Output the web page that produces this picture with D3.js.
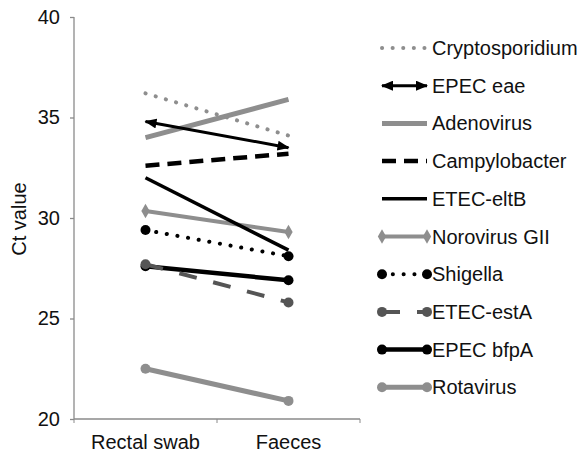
<!DOCTYPE html>
<html>
<head>
<meta charset="utf-8">
<script src="https://cdn.jsdelivr.net/npm/d3@7"></script>
<style>
  body { margin: 0; background: #fff; }
  text { font-family: "Liberation Sans", Arial, sans-serif; fill: #111; }
</style>
</head>
<body>
<svg width="580" height="454"></svg>
<script>
// sample types on the x axis
const samples = ["Rectal swab", "Faeces"]
const yTicks = [20, 25, 30, 35, 40]

// one pair of Ct values per pathogen: [rectal swab, faeces]
const pathogens = ["Cryptosporidium", "EPEC eae", "Adenovirus", "Campylobacter", "ETEC-eltB",
  "Norovirus GII", "Shigella", "ETEC-estA", "EPEC bfpA", "Rotavirus"]
const cryptosporidium = [36.2, 34.1]
const epecEae = [34.8, 33.5]
const adenovirus = [34.0, 35.9]
const campylobacter = [32.6, 33.2]
const etecEltB = [32.0, 28.4]
const norovirus = [30.35, 29.3]
const shigella = [29.4, 28.1]
const etecEstA = [27.7, 25.8]
const epecBfpA = [27.6, 26.9]
const rotavirus = [22.5, 20.9]

const values = [cryptosporidium, epecEae, adenovirus, campylobacter, etecEltB,
  norovirus, shigella, etecEstA, epecBfpA, rotavirus]

const grey = "#8e8e8e", dark = "#555555", black = "#000000"

// look of each series (same order as pathogens)
const styles = [
  {color: grey,  width: 4,   dash: "0.1 10.5", cap: "round"},
  {color: black, width: 3,   arrows: true},
  {color: grey,  width: 5},
  {color: black, width: 4.5, dash: "14 8"},
  {color: black, width: 3.5},
  {color: grey,  width: 4,   marker: "diamond"},
  {color: black, width: 4,   dash: "0.1 10.7", cap: "round", marker: "circle"},
  {color: dark,  width: 4,   dash: "18 17", marker: "circle"},
  {color: black, width: 4.5, marker: "circle"},
  {color: grey,  width: 5,   marker: "circle"}
]

const svg = d3.select("svg")

const xScale = d3.scaleBand().domain(samples).range([74, 360])
const yScale = d3.scaleLinear().domain([20, 40]).range([419, 17])
const xMid = d => xScale(d) + xScale.bandwidth() / 2

// arrow heads for EPEC eae
const defs = svg.append("defs")
defs.append("marker").attr("id", "arrowEnd")
  .attr("viewBox", "0 0 12 10").attr("refX", 11).attr("refY", 5)
  .attr("markerWidth", 12).attr("markerHeight", 10)
  .attr("markerUnits", "userSpaceOnUse").attr("orient", "auto")
  .append("path").attr("d", "M0,0 L12,5 L0,10 Z").attr("fill", black)
defs.append("marker").attr("id", "arrowStart")
  .attr("viewBox", "0 0 12 10").attr("refX", 1).attr("refY", 5)
  .attr("markerWidth", 12).attr("markerHeight", 10)
  .attr("markerUnits", "userSpaceOnUse").attr("orient", "auto")
  .append("path").attr("d", "M12,0 L0,5 L12,10 Z").attr("fill", black)

// axes
const yAxis = d3.axisLeft(yScale).tickValues(yTicks).tickSize(4).tickPadding(10)
const yG = svg.append("g").attr("transform", "translate(74,0)").call(yAxis)
yG.select(".domain").attr("d", "M0,17V419")
const xAxis = d3.axisBottom(xScale).tickSize(0).tickPadding(16)
const xG = svg.append("g").attr("transform", "translate(0,419)").call(xAxis)
xG.select(".domain").attr("d", "M74,0H360")
// band edge ticks
xG.selectAll("line.edge")
  .data([74, 217, 360])
  .enter()
  .append("line")
  .attr("x1", d => d).attr("x2", d => d)
  .attr("y1", 0).attr("y2", 4)
  .attr("stroke", "#8a8a8a")
svg.selectAll(".domain, .tick line").attr("stroke", "#8a8a8a").attr("stroke-width", 1.3)
svg.selectAll(".tick text").style("font-size", "20px").attr("fill", "#111")

svg.append("text")
  .attr("transform", "translate(26,219) rotate(-90)")
  .attr("text-anchor", "middle")
  .style("font-size", "20px")
  .text("Ct value")

// draw one series into a group: line, arrows and end markers
function drawSeries(g, pts, s) {
  g.append("path")
    .attr("d", d3.line()(pts))
    .attr("fill", "none")
    .attr("stroke", s.color)
    .attr("stroke-width", s.width)
    .attr("stroke-dasharray", s.dash || null)
    .attr("stroke-linecap", s.cap || "butt")
    .attr("marker-start", s.arrows ? "url(#arrowStart)" : null)
    .attr("marker-end", s.arrows ? "url(#arrowEnd)" : null)
  if (s.marker == "circle") {
    g.selectAll("circle")
      .data(pts)
      .enter()
      .append("circle")
      .attr("cx", d => d[0]).attr("cy", d => d[1])
      .attr("r", 5)
      .attr("fill", s.color)
  }
  if (s.marker == "diamond") {
    g.selectAll("path.dm")
      .data(pts)
      .enter()
      .append("path")
      .attr("class", "dm")
      .attr("d", d3.symbol().type(d3.symbolDiamond).size(60))
      .attr("transform", d => `translate(${d[0]},${d[1]})`)
      .attr("fill", s.color)
  }
}

// plot lines, bottom of the legend list is drawn first
d3.range(pathogens.length).reverse().forEach(i => {
  const pts = values[i].map((v, j) => [xMid(samples[j]), yScale(v)])
  drawSeries(svg.append("g").attr("class", "series"), pts, styles[i])
})

// legend
const legend = svg.append("g")
pathogens.forEach((name, i) => {
  const y = 48 + i * 37.7
  const g = legend.append("g")
  drawSeries(g, [[382, y], [427, y]], styles[i])
  g.append("text")
    .attr("x", 432).attr("y", y)
    .attr("dy", "0.35em")
    .style("font-size", "20px")
    .text(name)
})
</script>
</body>
</html>
